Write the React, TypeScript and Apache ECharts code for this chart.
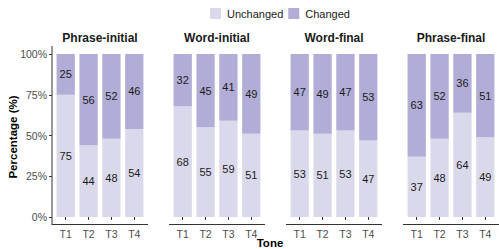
import React, { useEffect, useRef } from "react";
import * as echarts from "echarts";

const facets = ["Phrase-initial", "Word-initial", "Word-final", "Phrase-final"];
const tones = ["T1", "T2", "T3", "T4"];
const unchanged = [
  [75, 44, 48, 54],
  [68, 55, 59, 51],
  [53, 51, 53, 47],
  [37, 48, 64, 49],
];
const changed = [
  [25, 56, 52, 46],
  [32, 45, 41, 49],
  [47, 49, 47, 53],
  [63, 52, 36, 51],
];
const yTicks = [0, 25, 50, 75, 100];
const seriesNames = ["Unchanged", "Changed"];

const COL_UN = "#dad9eb";
const COL_CH = "#b1add6";
const FONT = "Liberation Sans, Arial, sans-serif";

export default function App() {
  const ref = useRef<HTMLDivElement>(null);
  useEffect(() => {
    if (!ref.current) return;
    const chart = echarts.init(ref.current, null, { renderer: "svg" });
    const facetLeft = [52, 169, 286, 403];
    const facetW = 96;
    const u = facetW / 4.2;
    const top = 54;
    const bottomY = 217;
    const grids: any[] = [];
    const xAxes: any[] = [];
    const yAxes: any[] = [];
    const series: any[] = [];
    const graphics: any[] = [];
    facets.forEach((f, i) => {
      grids.push({
        left: facetLeft[i] + 0.1 * u,
        width: 4 * u,
        top,
        height: bottomY - top,
      });
      xAxes.push({
        type: "category",
        gridIndex: i,
        data: tones,
        offset: 8,
        axisLine: { show: false },
        axisTick: { show: true, length: 3, alignWithLabel: true, lineStyle: { color: "#333" } },
        axisLabel: {
          color: "#4d4d4d",
          fontSize: 10.5,
          lineHeight: 10.5,
          fontFamily: FONT,
          margin: 4,
        },
      });
      yAxes.push({
        type: "value",
        gridIndex: i,
        min: 0,
        max: 100,
        interval: 25,
        offset: 0.1 * u,
        axisLine: { show: false },
        splitLine: { show: false },
        axisTick: { show: i === 0, length: 3, lineStyle: { color: "#333" } },
        axisLabel: {
          show: i === 0,
          color: "#4d4d4d",
          fontSize: 10.5,
          fontFamily: FONT,
          margin: 5,
          formatter: (v: number) => (yTicks.includes(v) ? v + "%" : ""),
        },
      });
      const labelCfg = {
        show: true,
        position: "inside",
        color: "#1a1a1a",
        fontSize: 11,
        fontFamily: FONT,
      };
      series.push({
        type: "bar",
        name: seriesNames[0],
        xAxisIndex: i,
        yAxisIndex: i,
        stack: "s" + i,
        data: unchanged[i],
        barWidth: 0.8 * u,
        itemStyle: { color: COL_UN },
        label: labelCfg,
      });
      series.push({
        type: "bar",
        name: seriesNames[1],
        xAxisIndex: i,
        yAxisIndex: i,
        stack: "s" + i,
        data: changed[i],
        barWidth: 0.8 * u,
        itemStyle: { color: COL_CH },
        label: labelCfg,
      });
      graphics.push({
        type: "line",
        shape: { x1: facetLeft[i], y1: 224.5, x2: facetLeft[i] + facetW, y2: 224.5 },
        style: { stroke: "#333", lineWidth: 1 },
      });
      graphics.push({
        type: "text",
        x: facetLeft[i] + facetW / 2,
        y: 38,
        style: {
          text: f,
          fill: "#1a1a1a",
          fontSize: 12,
          fontWeight: "bold",
          fontFamily: FONT,
          align: "center",
          verticalAlign: "middle",
        },
      });
    });
    graphics.push({
      type: "line",
      shape: { x1: 52, y1: 46, x2: 52, y2: 225 },
      style: { stroke: "#333", lineWidth: 1 },
    });
    graphics.push({
      type: "text",
      x: 13,
      y: 137,
      rotation: Math.PI / 2,
      style: {
        text: "Percentage (%)",
        fill: "#000",
        fontSize: 11.5,
        fontWeight: "bold",
        fontFamily: FONT,
        align: "center",
        verticalAlign: "middle",
      },
    });
    graphics.push({
      type: "text",
      x: 270,
      y: 242.5,
      style: {
        text: "Tone",
        fill: "#000",
        fontSize: 11.5,
        lineHeight: 11.5,
        fontWeight: "bold",
        fontFamily: FONT,
        align: "center",
        verticalAlign: "middle",
      },
    });
    chart.setOption({
      animation: false,
      grid: grids,
      xAxis: xAxes,
      yAxis: yAxes,
      series,
      graphic: graphics,
      legend: {
        data: seriesNames,
        left: 210,
        top: 8,
        padding: 0,
        itemWidth: 11,
        itemHeight: 11,
        itemGap: 5,
        icon: "rect",
        textStyle: { color: "#1a1a1a", fontSize: 11, fontFamily: FONT, padding: [0, 0, 0, 1] },
      },
    });
    return () => chart.dispose();
  }, []);
  return <div ref={ref} style={{ width: 499, height: 249, position: "absolute", left: 0, top: 0 }} />;
}
